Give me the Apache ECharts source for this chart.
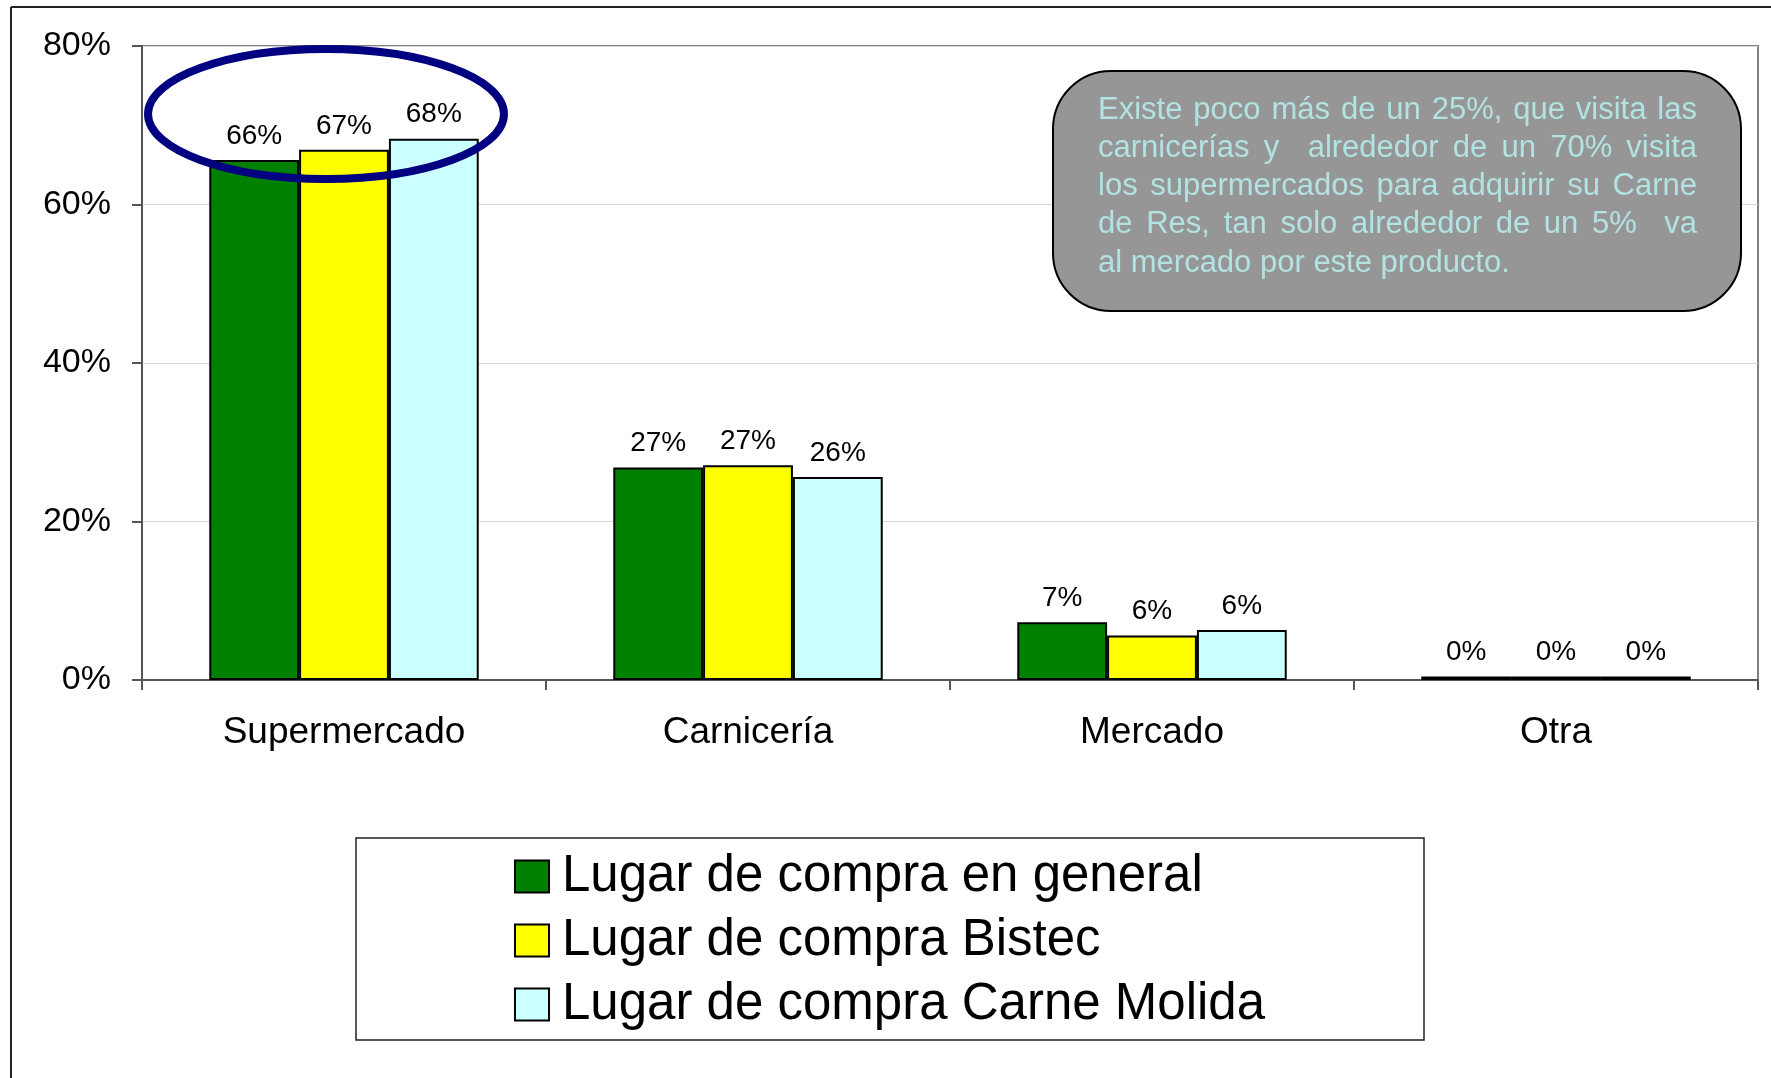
<!DOCTYPE html>
<html>
<head>
<meta charset="utf-8">
<script src="https://cdn.jsdelivr.net/npm/echarts@6/dist/echarts.min.js"></script>
<style>
html,body{margin:0;padding:0;background:#fff}
#main{width:1771px;height:1078px}
</style>
</head>
<body>
<div id="main"></div>
<script>
// datos
var categories = ['Supermercado', 'Carnicería', 'Mercado', 'Otra'];
var seriesNames = ['Lugar de compra en general', 'Lugar de compra Bistec', 'Lugar de compra Carne Molida'];
var general = [65.6, 26.8, 7.3, 0.45];
var bistec = [66.9, 27.1, 5.6, 0.45];
var molida = [68.3, 25.6, 6.3, 0.45];
var colors = ['#008000', '#ffff00', '#ccffff'];
var yMin = 0, yMax = 80, yStep = 20;

var noteLines = [
	'Existe poco más de un 25%, que visita las',
	'carnicerías y  alrededor de un 70% visita',
	'los supermercados para adquirir su Carne',
	'de Res, tan solo alrededor de un 5%  va',
	'al mercado por este producto.'
];

var FONT = 'Liberation Sans';
var myChart = echarts.init(document.getElementById('main'));

// texto justificado del recuadro
var ctx = document.createElement('canvas').getContext('2d');
var noteSize = 31;
ctx.font = noteSize + 'px "' + FONT + '"';
var noteLeft = 1098, noteRight = 1697, noteTop = 110, noteStep = 38.3;
var noteTexts = [];
noteLines.forEach(function(line, i){
	var words = line.split(' ');
	var total = 0;
	words.forEach(function(w){ total += ctx.measureText(w).width });
	var gap = ctx.measureText(' ').width;
	if (i < noteLines.length - 1 && words.length > 1) {
		gap = (noteRight - noteLeft - total) / (words.length - 1);
	}
	var x = noteLeft;
	words.forEach(function(w){
		if (w) {
			noteTexts.push({
				type: 'text', x: x, y: noteTop + i * noteStep, z: 102,
				style: {text: w, fill: '#b2e2e2', fontSize: noteSize, fontFamily: FONT, verticalAlign: 'middle'}
			});
		}
		x += ctx.measureText(w).width + gap;
	});
});

function barSeries(name, data, color){
	return {
		name: name,
		type: 'bar',
		barGap: '0%',
		barCategoryGap: '33.3%',
		data: data,
		itemStyle: {color: color, borderColor: '#000', borderWidth: 2},
		label: {
			show: true,
			position: 'top',
			distance: 10,
			color: '#000',
			fontSize: 28,
			fontFamily: FONT,
			formatter: function(p){ return Math.round(p.value) + '%' }
		}
	}
}

myChart.setOption({
	animation: false,
	textStyle: {fontFamily: FONT},
	grid: {
		left: 142, right: 13, top: 46, bottom: 398,
		show: true, borderColor: '#808080', borderWidth: 2
	},
	legend: {
		orient: 'vertical',
		left: 514, top: 851,
		padding: 0,
		icon: 'rect',
		itemWidth: 34, itemHeight: 32, itemGap: 13,
		textStyle: {fontSize: 51, color: '#000', lineHeight: 50, padding: [0, 0, 0, 8]},
		data: seriesNames
	},
	xAxis: {
		type: 'category',
		data: categories,
		axisLine: {lineStyle: {color: '#555', width: 2}},
		axisTick: {show: true, length: 10, lineStyle: {color: '#555', width: 2}},
		axisLabel: {fontSize: 37, color: '#000', margin: 34}
	},
	yAxis: {
		type: 'value',
		min: yMin, max: yMax, interval: yStep,
		axisLine: {show: true, lineStyle: {color: '#555', width: 2}},
		axisTick: {show: true, length: 10, lineStyle: {color: '#555', width: 2}},
		axisLabel: {fontSize: 34, color: '#000', margin: 31, formatter: '{value}%'},
		splitLine: {lineStyle: {color: '#d6d6d6', width: 1}}
	},
	graphic: [
		// marco exterior
		{type: 'line', z: 0, shape: {x1: 11, y1: 7, x2: 1771, y2: 7}, style: {stroke: '#222', lineWidth: 2}},
		{type: 'line', z: 0, shape: {x1: 11, y1: 7, x2: 11, y2: 1078}, style: {stroke: '#222', lineWidth: 2}},
		// caja de la leyenda
		{type: 'rect', z: 0, shape: {x: 356, y: 838, width: 1068, height: 202}, style: {fill: 'none', stroke: '#222', lineWidth: 1.5}},
		// ovalo
		{type: 'ellipse', z: 100, shape: {cx: 326, cy: 114, rx: 178, ry: 65}, style: {fill: 'none', stroke: '#000080', lineWidth: 8}},
		// recuadro de comentario
		{type: 'rect', z: 101, shape: {x: 1053, y: 71, width: 688, height: 240, r: 58}, style: {fill: '#969696', stroke: '#000', lineWidth: 2}}
	].concat(noteTexts),
	series: [
		barSeries(seriesNames[0], general, colors[0]),
		barSeries(seriesNames[1], bistec, colors[1]),
		barSeries(seriesNames[2], molida, colors[2])
	]
});
</script>
</body>
</html>
